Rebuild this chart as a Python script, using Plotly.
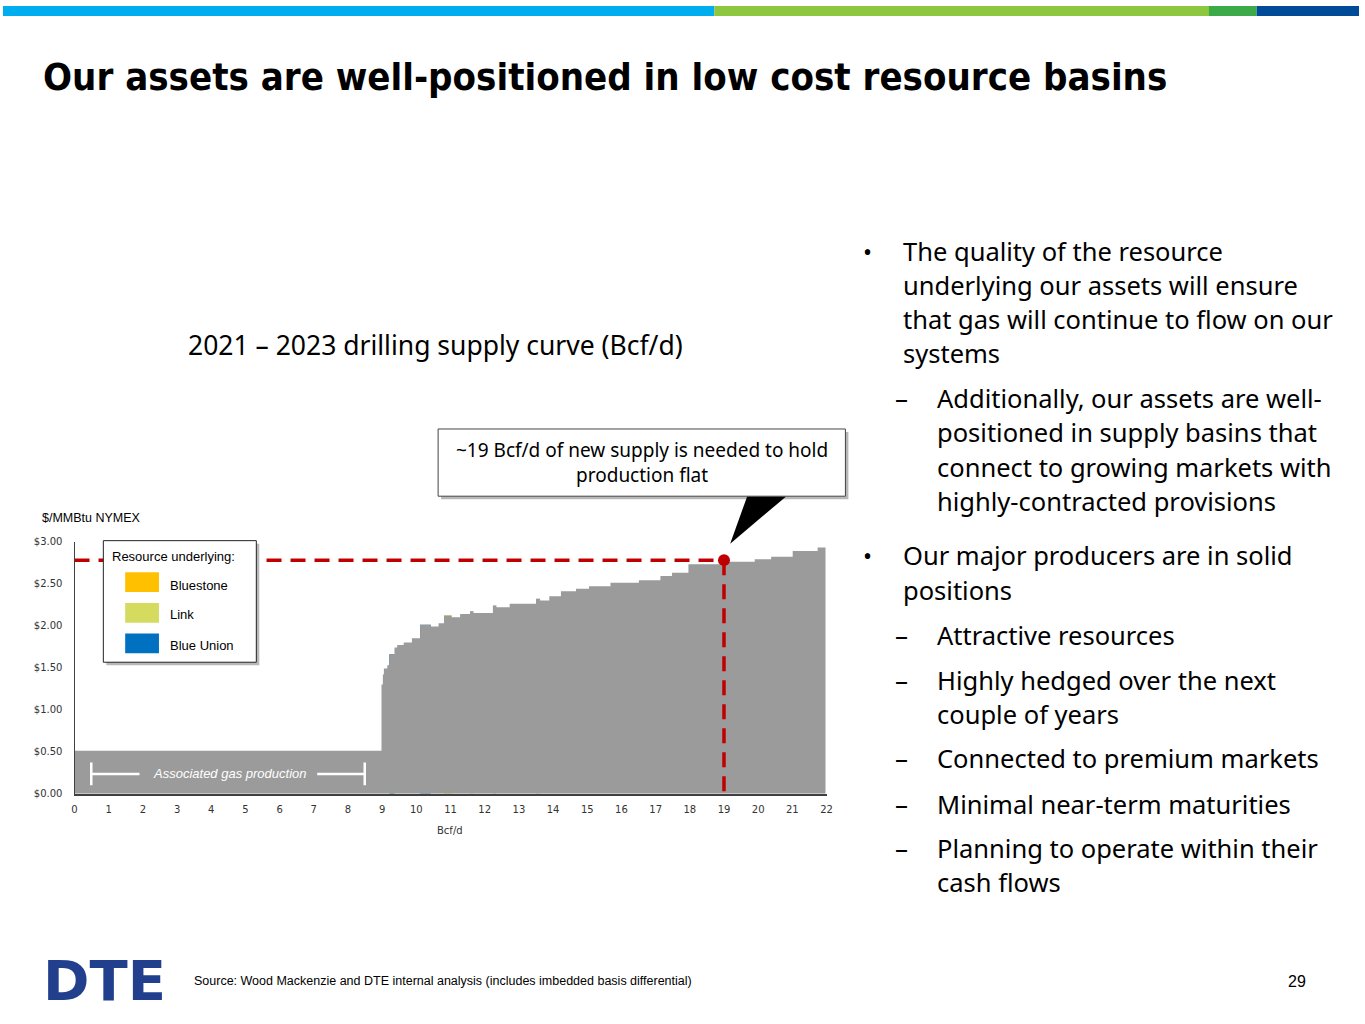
import plotly.graph_objects as go

W, H = 1365, 1024

# supply curve: start of each step (Bcf/d) and its price ($/MMBtu)
supply_bcfd = [0.0, 8.98, 9.02, 9.05, 9.15, 9.21, 9.36, 9.44, 9.63, 9.87, 10.11,
               10.42, 10.65, 10.81, 11.03, 11.28, 11.57, 11.67, 12.24, 12.34, 12.73,
               13.50, 13.62, 13.89, 14.23, 14.67, 15.05, 15.68, 16.51, 17.14, 17.48,
               17.96, 18.93, 19.90, 20.38, 21.01, 21.74, 21.97]
price_usd = [0.51, 1.30, 1.42, 1.49, 1.53, 1.66, 1.74, 1.77, 1.80, 1.85, 2.01,
             1.99, 2.03, 2.12, 2.10, 2.14, 2.17, 2.15, 2.24, 2.22, 2.26,
             2.32, 2.30, 2.35, 2.41, 2.44, 2.47, 2.51, 2.54, 2.59, 2.63,
             2.73, 2.76, 2.79, 2.82, 2.89, 2.93, 2.95]

# highlighted resources (left edge, width, price)
bluestone_x = [10.81]
bluestone_w = [0.22]
bluestone_y = [2.12]
link_x = [11.57, 12.24, 13.50]
link_w = [0.10, 0.10, 0.12]
link_y = [2.17, 2.24, 2.32]
blue_union_x = [9.21, 10.11]
blue_union_w = [0.15, 0.31]
blue_union_y = [1.66, 2.01]

needed_supply = 19
needed_price = 2.78

x_ticks = list(range(0, 23))
y_ticks = [0, 0.5, 1.0, 1.5, 2.0, 2.5, 3.0]
y_tick_text = ["$0.00", "$0.50", "$1.00", "$1.50", "$2.00", "$2.50", "$3.00"]

GRAY = "#9b9b9b"
RED = "#C00000"
YELLOW = "#FFC000"
LINK = "#D5DB5E"
BLUE = "#0070C0"
BODY_FONT = "Noto Sans"
NARROW = "Liberation Sans Narrow, DejaVu Sans Condensed, Roboto Condensed, Liberation Sans"


def px(x):
    return x / W


def py(y):
    return 1 - y / H


fig = go.Figure()

fig.add_trace(go.Scatter(
    x=supply_bcfd, y=price_usd, mode="lines", line=dict(shape="hv", width=0, color=GRAY),
    fill="tozeroy", fillcolor=GRAY, hoverinfo="skip",
))
for bx, bw, by, col in [(bluestone_x, bluestone_w, bluestone_y, YELLOW),
                        (link_x, link_w, link_y, LINK),
                        (blue_union_x, blue_union_w, blue_union_y, BLUE)]:
    fig.add_trace(go.Bar(x=bx, y=by, width=bw, offset=0, marker=dict(color=col, line_width=0)))

# dashed reference lines to ~19 Bcf/d
fig.add_trace(go.Scatter(
    x=[0, needed_supply], y=[needed_price, needed_price], mode="lines",
    line=dict(color=RED, width=3.5, dash="15px,9px"),
))
fig.add_trace(go.Scatter(
    x=[needed_supply, needed_supply], y=[needed_price, 0], mode="lines",
    line=dict(color=RED, width=3.5, dash="15px,9px"),
))
fig.add_trace(go.Scatter(
    x=[needed_supply], y=[needed_price], mode="markers",
    marker=dict(color=RED, size=12),
))

shapes = []
# top colour band
for x0, x1, c in [(0, 716, "#00AEEF"), (716, 1214, "#8DC63F"),
                  (1214, 1262, "#3DAA49"), (1262, 1365, "#004B98")]:
    shapes.append(dict(type="rect", xref="paper", yref="paper", x0=px(x0), x1=px(x1),
                       y0=py(10), y1=py(0), fillcolor=c, line_width=0))

# legend box
shapes.append(dict(type="rect", xref="paper", yref="paper", x0=px(104), x1=px(258),
                   y0=py(667), y1=py(544), fillcolor="#b8b8b8", line_width=0, layer="above"))
shapes.append(dict(type="rect", xref="paper", yref="paper", x0=px(101), x1=px(255),
                   y0=py(664), y1=py(541), fillcolor="white",
                   line=dict(color="#222222", width=1), layer="above"))
for y0, c in [(573, YELLOW), (604, LINK), (635, BLUE)]:
    shapes.append(dict(type="rect", xref="paper", yref="paper", x0=px(123), x1=px(157),
                       y0=py(y0 + 20), y1=py(y0), fillcolor=c, line_width=0, layer="above"))

# callout
shapes.append(dict(type="rect", xref="paper", yref="paper", x0=px(441), x1=px(851),
                   y0=py(499), y1=py(431), fillcolor="#b8b8b8", line_width=0, layer="above"))
shapes.append(dict(type="rect", xref="paper", yref="paper", x0=px(438), x1=px(848),
                   y0=py(496), y1=py(428), fillcolor="white",
                   line=dict(color="#444444", width=1), layer="above"))
shapes.append(dict(type="path", xref="paper", yref="paper",
                   path=f"M {px(749)},{py(496.5)} L {px(788)},{py(496.5)} L {px(732)},{py(544)} Z",
                   fillcolor="black", line_width=0, layer="above"))

# associated gas bracket
for x0, y0, x1, y1 in [(0.49, 0.10, 0.49, 0.37), (0.49, 0.235, 1.9, 0.235),
                       (7.1, 0.235, 8.49, 0.235), (8.49, 0.10, 8.49, 0.37)]:
    shapes.append(dict(type="line", xref="x", yref="y", x0=x0, y0=y0, x1=x1, y1=y1,
                       line=dict(color="white", width=2.5), layer="above"))

annotations = []


def text(x, y, s, size, xanchor="left", color="black", family=BODY_FONT, **kw):
    annotations.append(dict(xref="paper", yref="paper", x=px(x), y=py(y), text=s,
                            showarrow=False, xanchor=xanchor, yanchor="middle",
                            font=dict(size=size, color=color, family=family), **kw))


text(38, 72, "<b>Our assets are well-positioned in low cost resource basins</b>", 38,
     family=NARROW)
text(435, 343, "2021 – 2023 drilling supply curve (Bcf/d)", 26.5, xanchor="center")
text(643, 462, "~19 Bcf/d of new supply is needed to hold<br>production flat", 19,
     xanchor="center", align="center")
text(37, 518, "$/MMBtu NYMEX", 12.5, family="Liberation Sans")
text(450, 834, "Bcf/d", 10, xanchor="center", family="DejaVu Sans", color="#333333")

text(108, 557, "Resource underlying:", 13, family="Liberation Sans")
text(166, 586, "Bluestone", 13, family="Liberation Sans")
text(166, 616, "Link", 13, family="Liberation Sans")
text(166, 647, "Blue Union", 13, family="Liberation Sans")

text(228, 777, "<i>Associated gas production</i>", 13, xanchor="center", color="white",
     family="Liberation Sans")

# right-hand bullet text
bullets = [
    ("•", 248, ["The quality of the resource", "underlying our assets will ensure",
                "that gas will continue to flow on our", "systems"]),
    ("–", 397, ["Additionally, our assets are well-", "positioned in supply basins that",
                "connect to growing markets with", "highly-contracted provisions"]),
    ("•", 556, ["Our major producers are in solid", "positions"]),
    ("–", 636, ["Attractive resources"]),
    ("–", 682, ["Highly hedged over the next", "couple of years"]),
    ("–", 761, ["Connected to premium markets"]),
    ("–", 807, ["Minimal near-term maturities"]),
    ("–", 852, ["Planning to operate within their", "cash flows"]),
]
for mark, y0, lines in bullets:
    if mark == "•":
        text(864, y0, mark, 24)
        tx = 904
    else:
        text(896, y0, mark, 26)
        tx = 938
    for i, line in enumerate(lines):
        text(tx, y0 + i * 34.5, line, 25.5)

# footer
text(38, 986, "<b>DTE</b>", 56, color="#223F8E", family="DejaVu Sans")
text(190, 987, "Source: Wood Mackenzie and DTE internal analysis (includes imbedded basis differential)",
     12.5, family="Liberation Sans")
text(1314, 987, "29", 16, xanchor="right", family="Liberation Sans")

fig.update_layout(
    width=W, height=H, autosize=False,
    margin=dict(l=0, r=0, t=0, b=0),
    paper_bgcolor="white", plot_bgcolor="white",
    showlegend=False, barmode="overlay",
    shapes=shapes, annotations=annotations,
    xaxis=dict(
        domain=[px(72), px(829)], range=[0, 22], tickvals=x_ticks,
        showgrid=False, zeroline=False, showline=True, linecolor="#404040", linewidth=1.5,
        ticks="", ticklabelstandoff=6,
        tickfont=dict(family="DejaVu Sans", size=10, color="#333333"),
    ),
    yaxis=dict(
        domain=[py(797), py(542)], range=[0, 3], tickvals=y_ticks, ticktext=y_tick_text,
        showgrid=False, zeroline=False, showline=True, linecolor="#404040", linewidth=1.2,
        ticks="", ticklabelstandoff=9,
        tickfont=dict(family="DejaVu Sans", size=10, color="#333333"),
    ),
)

page_fix = ("document.documentElement.style.margin='0px';"
            "document.body.style.margin='0px';"
            "document.documentElement.style.overflow='hidden';"
            "document.body.style.overflow='hidden';")
fig.write_html("out.html", config={"displayModeBar": False}, post_script=page_fix)
